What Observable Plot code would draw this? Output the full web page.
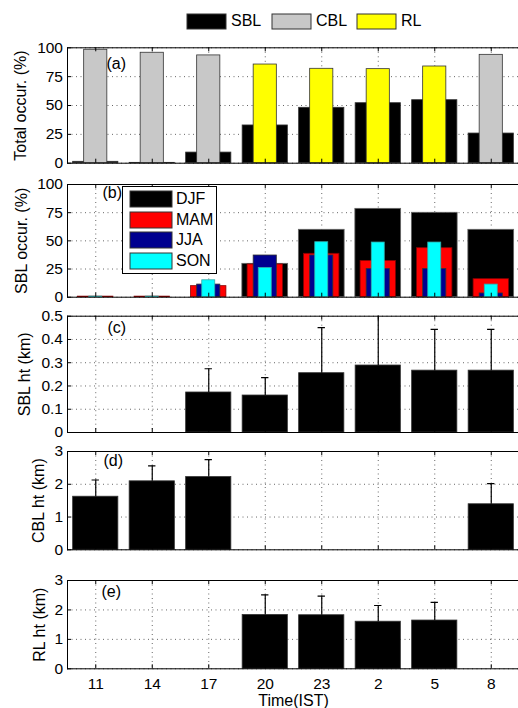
<!DOCTYPE html>
<html>
<head>
<meta charset="utf-8">
<script src="https://cdn.jsdelivr.net/npm/d3@7"></script>
<script src="https://cdn.jsdelivr.net/npm/@observablehq/plot@0.6"></script>
<style>
  html, body { margin: 0; padding: 0; background: #fff; }
  #wrap { position: relative; width: 518px; height: 708px; overflow: hidden; background: #fff; }
  #wrap svg { display: block; }
  #toplegend { position: absolute; left: 187px; top: 6px; }
  #blegend { position: absolute; left: 122px; top: 186px; width: 95px; height: 88px; border: 1px solid #000; background: #fff; box-sizing: border-box; padding: 4px 0 0 7px; overflow: hidden; }
  .toplg-swatches-wrap { min-height: 30px !important; margin: 0 !important; }
  .toplg-swatches-wrap .toplg-swatch { margin-right: 0 !important; width: 85px; }
  .toplg-swatch > svg { margin-right: 5px !important; }
  .toplg-swatch rect, .blg-swatch rect { stroke: #333; stroke-width: 1px; }
  .blg-swatches { margin: 0 !important; }
</style>
</head>
<body>
<div id="wrap"></div>
<script>
// ---- data ----
const times = ["11", "14", "17", "20", "23", "2", "5", "8"];
const pos = [1, 2, 3, 4, 5, 6, 7, 8];

// (a) total occurrence (%)
const sblTotal = [1.2, 0.3, 9.2, 32.7, 48, 52, 54.6, 25.7];
const cblTotal = [98.3, 95.7, 93.4, null, null, null, null, 93.9];
const rlTotal  = [null, null, null, 85.5, 81.8, 81.5, 83.8, null];

// (b) SBL occurrence by season (%)
const seasons = ["DJF", "MAM", "JJA", "SON"];
const djf = [0, 0, 0, 29.6, 59.8, 78.4, 74.9, 59.8];
const mam = [0.5, 0.5, 9.8, 29, 38.5, 32.2, 43.5, 16];
const jja = [0, 0, 11.2, 37, 37, 25.1, 25, 3.3];
const son = [0.5, 0.5, 15, 26, 48.8, 48.5, 48.5, 11.2];

// (c) SBL height (km) and upper std
const sblHt    = [null, null, 0.172, 0.159, 0.255, 0.288, 0.266, 0.266];
const sblHtErr = [null, null, 0.102, 0.077, 0.196, 0.25, 0.177, 0.177];

// (d) CBL height (km)
const cblHt    = [1.62, 2.09, 2.22, null, null, null, null, 1.39];
const cblHtErr = [0.51, 0.47, 0.53, null, null, null, null, 0.63];

// (e) RL height (km)
const rlHt    = [null, null, null, 1.83, 1.82, 1.60, 1.64, null];
const rlHtErr = [null, null, null, 0.68, 0.65, 0.55, 0.62, null];

const pctTicks = [0, 25, 50, 75, 100];
const sblTicks = [0, 0.1, 0.2, 0.3, 0.4, 0.5];
const kmTicks = [0, 1, 2, 3];

// ---- helpers ----
const FONT = "'Liberation Sans', Arial, Helvetica, sans-serif";
const rows = (vals, errs) => pos.map((p, i) => ({p, v: vals[i], e: errs ? errs[i] : 0})).filter(d => d.v != null);

function bars(vals, w, fill, stroke = "#333") {
  return Plot.rect(rows(vals), {
    x1: d => d.p - w / 2, x2: d => d.p + w / 2, y1: 0, y2: "v",
    fill, stroke, strokeWidth: 0.8
  });
}
function errbars(vals, errs) {
  const r = rows(vals, errs);
  return [
    Plot.ruleX(r, {x: "p", y1: "v", y2: d => d.v + d.e, stroke: "#000", strokeWidth: 1.2, clip: true}),
    Plot.ruleY(r, {y: d => d.v + d.e, x1: d => d.p - 0.065, x2: d => d.p + 0.065, stroke: "#000", strokeWidth: 1.2, clip: true})
  ];
}

function panel({height, mt, mb, yDomain, yTicks, yFormat, marks, label, labelDx, tag, tagDx, tagDy, bottomAxis}) {
  const fh = height - mt - mb;
  const fw = 518 + 1 - 67;
  return Plot.plot({
    width: 518, height, marginTop: mt, marginBottom: mb, marginLeft: 67, marginRight: -1,
    style: {fontFamily: FONT, fontSize: "15px", background: "transparent", color: "#000", overflow: "visible"},
    x: {domain: [0.5, 8.5], axis: null},
    y: {domain: yDomain},
    marks: [
      Plot.gridY({ticks: yTicks, stroke: "#000", strokeOpacity: 0.6, strokeDasharray: "1,3.5"}),
      Plot.gridX({ticks: pos, stroke: "#000", strokeOpacity: 0.6, strokeDasharray: "1,3.5"}),
      ...marks,
      Plot.ruleX(pos, {x: d => d, insetBottom: fh - 4, stroke: "#000"}),
      Plot.ruleX(pos, {x: d => d, insetTop: fh - 4, stroke: "#000"}),
      Plot.ruleY(yTicks, {y: d => d, insetRight: fw - 4, stroke: "#000"}),
      Plot.frame({stroke: "#000", strokeWidth: 1}),
      Plot.axisY({ticks: yTicks, tickFormat: yFormat, tickSize: 0, tickPadding: 4.5, fontSize: 15.5, label: null}),
      Plot.text([label], {text: d => d, frameAnchor: "left", rotate: -90, dx: labelDx, textAnchor: "middle", lineAnchor: "middle", fontSize: 16, fill: "#000"}),
      Plot.text([tag], {text: d => d, frameAnchor: "top-left", dx: tagDx, dy: tagDy, textAnchor: "start", lineAnchor: "middle", fontSize: 16, fill: "#000"}),
      ...(bottomAxis ? [
        Plot.axisX({ticks: pos, tickFormat: i => times[i - 1], tickSize: 0, tickPadding: 9, fontSize: 15.5, label: null}),
        Plot.text(["Time(IST)"], {text: d => d, frameAnchor: "bottom", dy: 31.7, textAnchor: "middle", lineAnchor: "middle", fontSize: 16, fill: "#000"})
      ] : [])
    ]
  });
}

const wrap = document.getElementById("wrap");

// top legend
const topLegend = Plot.legend({
  color: {type: "ordinal", domain: ["SBL", "CBL", "RL"], range: ["#000000", "#c8c8c8", "#ffff00"]},
  legend: "swatches", swatchWidth: 39, swatchHeight: 15, className: "toplg",
  style: {fontFamily: FONT, fontSize: "16px", color: "#000"}
});
const tl = document.createElement("div"); tl.id = "toplegend"; tl.appendChild(topLegend);

const spacer = document.createElement("div"); spacer.style.height = "40px";
wrap.appendChild(spacer);

const intFmt = d => String(d);

// (a)
wrap.appendChild(panel({
  height: 134, mt: 7.3, mb: 11.3, yDomain: [0, 100], yTicks: pctTicks, yFormat: intFmt,
  label: "Total occur. (%)", labelDx: -47, tag: "(a)", tagDx: 39, tagDy: 16.5,
  marks: [bars(sblTotal, 0.8, "#000"), bars(cblTotal, 0.41, "#c8c8c8"), bars(rlTotal, 0.41, "#ffff00")]
}));
// (b)
wrap.appendChild(panel({
  height: 132, mt: 10, mb: 9.3, yDomain: [0, 100], yTicks: pctTicks, yFormat: intFmt,
  label: "SBL occur. (%)", labelDx: -46, tag: "(b)", tagDx: 35, tagDy: 8.5,
  marks: [bars(djf, 0.81, "#000", "#666"), bars(mam, 0.625, "#ff0000", "#800"), bars(jja, 0.41, "#00008f", "#333"), bars(son, 0.23, "#00ffff", "#3aa")]
}));
// (c)
wrap.appendChild(panel({
  height: 135, mt: 9.7, mb: 9, yDomain: [0, 0.5], yTicks: sblTicks, yFormat: d => d === 0 ? "0" : d3.format(".1f")(d),
  label: "SBL ht (km)", labelDx: -43, tag: "(c)", tagDx: 40, tagDy: 11.5,
  marks: [bars(sblHt, 0.8, "#000"), ...errbars(sblHt, sblHtErr)]
}));
// (d)
wrap.appendChild(panel({
  height: 124, mt: 10, mb: 15.7, yDomain: [0, 3], yTicks: kmTicks, yFormat: intFmt,
  label: "CBL ht (km)", labelDx: -29, tag: "(d)", tagDx: 36, tagDy: 9,
  marks: [bars(cblHt, 0.8, "#000"), ...errbars(cblHt, cblHtErr)]
}));
// (e)
wrap.appendChild(panel({
  height: 143, mt: 15, mb: 39.7, yDomain: [0, 3], yTicks: kmTicks, yFormat: intFmt,
  label: "RL ht (km)", labelDx: -27.5, tag: "(e)", tagDx: 34, tagDy: 11.5, bottomAxis: true,
  marks: [bars(rlHt, 0.8, "#000"), ...errbars(rlHt, rlHtErr)]
}));

wrap.appendChild(tl);

// legend inside panel (b)
const bLegend = Plot.legend({
  color: {type: "ordinal", domain: seasons, range: ["#000000", "#ff0000", "#00008f", "#00ffff"]},
  legend: "swatches", columns: 1, swatchWidth: 42, swatchHeight: 16, className: "blg",
  style: {fontFamily: FONT, fontSize: "16px", color: "#000"}
});
// tighten legend rows (each swatch row: 16px + gap)
bLegend.querySelectorAll("svg").forEach(s => {
  const row = s.parentNode;
  Object.assign(row.style, {display: "flex", alignItems: "center", height: "16px", lineHeight: "16px", padding: "0", margin: "0 0 4.7px 0"});
  s.style.marginRight = "4px";
});
const bl = document.createElement("div"); bl.id = "blegend"; bl.appendChild(bLegend);
wrap.appendChild(bl);
</script>
</body>
</html>
